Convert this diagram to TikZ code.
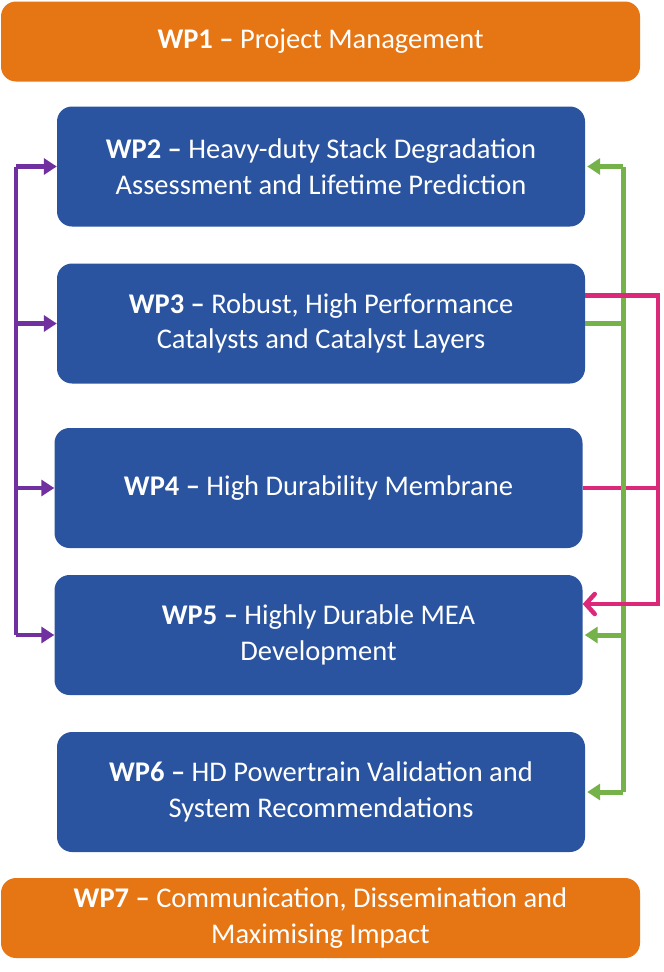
\documentclass[tikz,border=0pt]{standalone}
\usepackage{fontspec}
\setmainfont{Carlito}
\usepackage{xcolor}
\usetikzlibrary{arrows.meta}
\usetikzlibrary{positioning}

\definecolor{wpblue}{HTML}{2A54A0}
\definecolor{wporange}{HTML}{E67514}
\definecolor{wppurple}{HTML}{7030A0}
\definecolor{wpgreen}{HTML}{75B24A}
\definecolor{wppink}{HTML}{DC2878}

\begin{document}
\begin{tikzpicture}[
    x=1pt, y=-1pt,
    wp box/.style={
        rounded corners=15pt,
        fill=wpblue,
        text=white,
        align=center,
        inner sep=0pt,
        minimum width=528pt,
        minimum height=120pt,
        font=\fontsize{28.5}{35.5}\selectfont
    },
    side box/.style={
        wp box,
        fill=wporange,
        minimum width=639pt,
        minimum height=80pt
    },
    purple link/.style={draw=wppurple, line width=4.5pt},
    green link/.style={draw=wpgreen, line width=5pt},
    pink link/.style={draw=wppink, line width=4.5pt}
]
    \useasboundingbox (0,0) rectangle (664,972);

    % work packages
    \node[side box] (wp1) at (320.5,41.5) {\textbf{WP1 –} Project Management};
    \node[wp box] (wp2) at (321,166.5) {\textbf{WP2 –} Heavy-duty Stack Degradation\\Assessment and Lifetime Prediction};
    \node[wp box] (wp3) at (321,323.5) {\textbf{WP3 –} Robust, High Performance\\Catalysts and Catalyst Layers};
    \node[wp box] (wp4) at (318.5,488) {\textbf{WP4 –} High Durability Membrane};
    \node[wp box] (wp5) at (318.5,635) {\textbf{WP5 –} Highly Durable MEA\\Development};
    \node[wp box] (wp6) at (321,792) {\textbf{WP6 –} HD Powertrain Validation and\\System Recommendations};
    \node[side box] (wp7) at (320.5,918) {\textbf{WP7 –} Communication, Dissemination and\\Maximising Impact};

    % bus lines
    \coordinate (pbus) at (16,0);
    \coordinate (gbus) at (623,0);
    \coordinate (kbus) at (658,0);
    \coordinate (k3) at ([yshift=28pt]wp3.east);
    \coordinate (k5) at ([yshift=31pt]wp5.east);

    % purple links on the left
    \draw[purple link] (pbus |- wp2.west) -- (pbus |- wp5.west);
    \foreach \n in {wp2,wp3,wp4,wp5}
        \draw[purple link, -{Triangle[length=13pt,width=16pt]}] (pbus |- \n.west) -- (\n.west);

    % pink from WP4
    \draw[pink link] (wp4.east) -- (kbus |- wp4.east);

    % green links on the right
    \draw[green link] (wp3.east) -- (gbus |- wp3.east);
    \draw[green link] (gbus |- wp2.east) -- (gbus |- wp6.east);
    \foreach \n in {wp2,wp5,wp6}
        \draw[green link, -{Triangle[length=13pt,width=16pt]}] (gbus |- \n.east) -- ([xshift=2pt]\n.east);

    % pink from WP3 to WP5
    \draw[pink link, line join=miter, -{Straight Barb[length=9pt,width=20pt,line cap=round]}]
        (k3) -| (kbus |- k5) -- (k5);
\end{tikzpicture}
\end{document}
